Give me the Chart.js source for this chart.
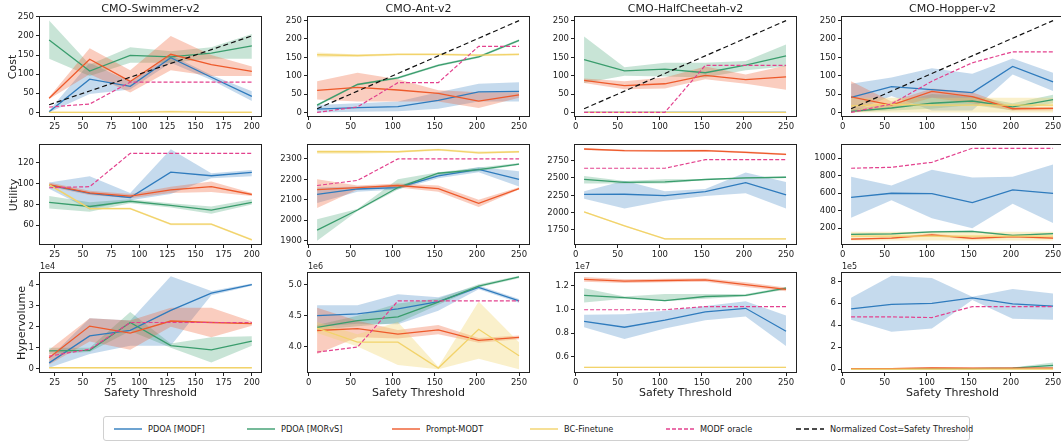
<!DOCTYPE html>
<html>
<head>
<meta charset="utf-8">
<script src="https://cdn.jsdelivr.net/npm/chart.js@4.4.1/dist/chart.umd.min.js"></script>
<style>
  html, body { margin:0; padding:0; background:#fff; }
  #fig { position:relative; width:1061px; height:442px; overflow:hidden; font-family:"DejaVu Sans", sans-serif; color:#222; }
  #fig canvas { position:absolute; }
  .lbl { position:absolute; white-space:nowrap; transform:translate(-50%,-50%); font-size:11px; }
  .ylab { position:absolute; white-space:nowrap; transform:translate(-50%,-50%) rotate(-90deg); font-size:11px; }
  .off { position:absolute; white-space:nowrap; font-size:8px; }
  #legend { position:absolute; left:103px; top:416px; width:867px; height:25px; border:1px solid #d0d0d0; border-radius:3px; box-sizing:border-box; }
  .li { position:absolute; top:0; height:100%; display:flex; align-items:center; font-size:8.2px; white-space:nowrap; }
  .li svg { margin-right:6px; }
</style>
</head>
<body>
<div id="fig"><div id="legend"></div></div>
<script>
// --- textos ---
const envNames = ['CMO-Swimmer-v2', 'CMO-Ant-v2', 'CMO-HalfCheetah-v2', 'CMO-Hopper-v2'];
const rowNames = ['Cost', 'Utility', 'Hypervolume'];
const hvOffsets = ['1e4', '1e6', '1e7', '1e5'];
const methodNames = ['PDOA [MODF]', 'PDOA [MORvS]', 'Prompt-MODT', 'BC-Finetune', 'MODF oracle', 'Normalized Cost=Safety Threshold'];

// --- eje x ---
const swimX = [20, 56, 92, 128, 164, 200];
const envX = [10, 58, 106, 154, 202, 250];
const swimRef = [20, 56, 92, 128, 164, 200];
const envRef = [10, 58, 106, 154, 202, 250];
const swimXTicks = [25, 50, 75, 100, 125, 150, 175, 200];
const envXTicks = [0, 50, 100, 150, 200, 250];

// --- ticks y ---
const costTicks = [0, 50, 100, 150, 200, 250];
const swimUtilTicks = [60, 80, 100, 120];
const antUtilTicks = [1900, 2000, 2100, 2200, 2300];
const cheUtilTicks = [1750, 2000, 2250, 2500, 2750];
const hopUtilTicks = [200, 400, 600, 800, 1000];
const swimHvTicks = [0, 1, 2, 3, 4];
const antHvTicks = [4.0, 4.5, 5.0];
const cheHvTicks = [0.6, 0.8, 1.0, 1.2];
const hopHvTicks = [0, 2, 4, 6, 8];

// --- datos: [media, min, max] por punto ---
// Cost
const swimCostModf   = [[2,0,5],[87,48,130],[68,60,80],[143,130,150],[92,85,98],[42,30,55]];
const swimCostMorvs  = [[189,140,240],[108,95,125],[149,130,170],[145,130,160],[155,140,170],[174,140,205]];
const swimCostPrompt = [[37,35,40],[139,100,168],[81,52,110],[152,110,200],[125,95,150],[107,95,120]];
const swimCostBc     = [[0,0,3],[0,0,2],[0,0,2],[2,0,5],[0,0,3],[0,0,3]];
const swimCostOracle = [14, 22, 79, 79, 79, 79];

const antCostModf   = [[9,0,20],[13,2,25],[16,3,30],[33,10,55],[56,30,78],[57,30,82]];
const antCostMorvs  = [[20,17,23],[76,73,79],[94,91,97],[128,125,131],[151,148,154],[196,193,199]];
const antCostPrompt = [[60,35,85],[68,30,108],[61,30,90],[52,30,60],[31,12,55],[48,40,55]];
const antCostBc     = [[157,150,163],[155,151,158],[158,155,161],[158,155,161],[156,153,159],[158,155,161]];
const antCostOracle = [0, 15, 81, 81, 180, 180];

const cheCostModf   = [[0,0,2],[0,0,2],[0,0,2],[0,0,2],[0,0,2],[0,0,2]];
const cheCostMorvs  = [[144,80,207],[113,100,123],[118,98,135],[108,95,135],[129,115,140],[154,125,185]];
const cheCostPrompt = [[87,80,92],[73,63,85],[78,65,95],[101,90,125],[89,78,103],[97,62,128]];
const cheCostBc     = [[0,0,1],[0,0,1],[0,0,1],[0,0,1],[0,0,1],[0,0,1]];
const cheCostOracle = [0, 0, 0, 128, 128, 128];

const hopCostModf   = [[41,0,78],[70,45,95],[62,5,120],[54,5,105],[125,103,147],[83,58,108]];
const hopCostMorvs  = [[3,0,8],[12,5,25],[25,10,50],[31,20,45],[15,5,25],[35,25,48]];
const hopCostPrompt = [[42,0,85],[20,10,30],[57,40,65],[43,25,55],[10,5,15],[11,5,15]];
const hopCostBc     = [[18,0,40],[22,0,40],[20,0,40],[20,0,40],[20,0,40],[20,0,40]];
const hopCostOracle = [0, 23, 85, 135, 165, 165];

// Utility
const swimUtilModf   = [[98.5,95,101],[90.5,75,107],[86.6,84,91],[111,90,133],[107.5,105,110],[110.7,107,113]];
const swimUtilMorvs  = [[82,76,88],[78,73,82],[83,81,85],[79,77,81],[74.5,71,78],[82,80,85]];
const swimUtilPrompt = [[99,97,101],[91,89,93],[88,86,90],[94,91,97],[97,92,102],[89.5,88,91]];
const swimUtilBc     = [[99,98,100],[76,75,77],[76,75,77],[61,60,62],[61,60,62],[46,45,47]];
const swimUtilOracle = [96, 97, 129, 129, 129, 129];

const antUtilModf   = [[2127,2085,2160],[2153,2140,2165],[2160,2150,2170],[2217,2205,2225],[2249,2235,2260],[2200,2165,2240]];
const antUtilMorvs  = [[1952,1900,2005],[2050,2045,2055],[2160,2150,2200],[2230,2220,2235],[2248,2240,2258],[2275,2270,2280]];
const antUtilPrompt = [[2150,2060,2200],[2160,2150,2170],[2170,2160,2180],[2155,2140,2170],[2083,2065,2100],[2155,2150,2162]];
const antUtilBc     = [[2335,2325,2343],[2335,2325,2343],[2335,2330,2340],[2345,2340,2350],[2330,2325,2337],[2335,2330,2340]];
const antUtilOracle = [2170, 2195, 2300, 2300, 2300, 2300];

const cheUtilModf   = [[2264,2200,2310],[2265,2060,2460],[2245,2170,2310],[2303,2240,2340],[2433,2280,2580],[2255,2060,2440]];
const cheUtilMorvs  = [[2481,2420,2530],[2437,2420,2455],[2445,2420,2480],[2478,2470,2485],[2500,2490,2510],[2510,2500,2520]];
const cheUtilPrompt = [[2918,2905,2930],[2895,2882,2908],[2890,2877,2903],[2895,2882,2908],[2870,2855,2885],[2841,2828,2854]];
const cheUtilBc     = [[2010,2000,2020],[1810,1800,1820],[1620,1610,1630],[1620,1610,1630],[1620,1610,1630],[1620,1610,1630]];
const cheUtilOracle = [2640, 2640, 2640, 2764, 2764, 2764];

const hopUtilModf   = [[554,320,790],[600,520,690],[596,315,870],[493,200,780],[638,480,790],[600,260,930]];
const hopUtilMorvs  = [[130,120,140],[137,127,147],[158,148,168],[165,155,175],[118,108,128],[140,130,150]];
const hopUtilPrompt = [[75,65,85],[87,77,97],[125,110,140],[85,72,98],[105,92,118],[88,78,98]];
const hopUtilBc     = [[110,60,160],[110,60,160],[110,60,160],[110,60,160],[110,60,160],[110,60,160]];
const hopUtilOracle = [886, 897, 954, 1114, 1114, 1114];

// Hypervolume (en unidades del offset)
const swimHvModf   = [[0.28,0.05,0.5],[1.56,0.7,2.4],[1.83,1.1,2.3],[2.78,1.1,4.4],[3.6,3.5,3.7],[4.0,3.95,4.05]];
const swimHvMorvs  = [[0.85,0.7,1.0],[0.88,0.8,1.0],[2.2,1.8,2.7],[1.1,1.0,1.2],[0.9,0.3,1.5],[1.32,1.1,1.55]];
const swimHvPrompt = [[0.52,0.2,0.9],[2.03,1.3,2.4],[1.7,0.9,2.3],[2.27,2.0,2.9],[2.2,1.5,2.9],[2.15,2.05,2.25]];
const swimHvBc     = [[0.05,0.03,0.07],[0.05,0.03,0.07],[0.05,0.03,0.07],[0.05,0.03,0.07],[0.05,0.03,0.07],[0.05,0.03,0.07]];
const swimHvOracle = [0.6, 0.93, 2.2, 2.2, 2.2, 2.2];

const antHvModf   = [[4.50,4.32,4.67],[4.53,4.37,4.67],[4.61,4.36,4.85],[4.73,4.58,4.8],[4.96,4.93,4.99],[4.74,4.71,4.77]];
const antHvMorvs  = [[4.31,4.27,4.35],[4.42,4.33,4.5],[4.48,4.38,4.7],[4.72,4.68,4.78],[4.98,4.96,5.01],[5.13,5.11,5.15]];
const antHvPrompt = [[4.26,3.88,4.63],[4.29,4.15,4.42],[4.2,4.13,4.27],[4.27,4.2,4.35],[4.1,4.06,4.14],[4.15,4.12,4.18]];
const antHvBc     = [[4.3,4.22,4.4],[4.07,4.0,4.2],[4.07,3.7,4.4],[3.65,3.63,3.67],[4.28,3.8,4.73],[3.85,3.63,4.07]];
const antHvOracle = [3.91, 3.99, 4.74, 4.74, 4.74, 4.74];

const cheHvModf   = [[0.90,0.85,0.955],[0.85,0.75,0.96],[0.91,0.84,0.99],[0.98,0.91,1.03],[1.01,0.94,1.07],[0.816,0.69,0.95]];
const cheHvMorvs  = [[1.12,1.06,1.18],[1.10,1.09,1.11],[1.075,1.07,1.13],[1.11,1.09,1.13],[1.12,1.11,1.13],[1.18,1.17,1.19]];
const cheHvPrompt = [[1.254,1.235,1.275],[1.24,1.225,1.255],[1.245,1.23,1.26],[1.25,1.235,1.265],[1.21,1.19,1.23],[1.17,1.155,1.185]];
const cheHvBc     = [[0.51,0.505,0.515],[0.51,0.505,0.515],[0.51,0.505,0.515],[0.51,0.505,0.515],[0.51,0.505,0.515],[0.51,0.505,0.515]];
const cheHvOracle = [0.998, 0.998, 0.998, 1.025, 1.025, 1.025];

const hopHvModf   = [[5.5,4.5,6.5],[5.9,3.4,8.5],[6.0,3.7,8.3],[6.5,6.3,6.6],[5.95,4.6,7.3],[5.74,4.5,6.9]];
const hopHvMorvs  = [[0.05,0,0.1],[0.05,0,0.1],[0.05,0,0.1],[0.05,0,0.1],[0.1,0.05,0.15],[0.35,0.1,0.6]];
const hopHvPrompt = [[0.05,0,0.1],[0.05,0,0.1],[0.12,0.05,0.2],[0.1,0.05,0.15],[0.1,0.05,0.15],[0.1,0.05,0.15]];
const hopHvBc     = [[0,0,0.02],[0,0,0.02],[0,0,0.02],[0,0,0.02],[0,0,0.02],[0,0,0.02]];
const hopHvOracle = [4.76, 4.76, 4.7, 5.7, 5.7, 5.7];

// --- estilos ---
const lineColors = ['#2f7bbd', '#3a9d6d', '#ee5a2b', '#f2d36b'];
const bandColors = ['rgba(47,123,189,0.28)', 'rgba(58,157,109,0.28)', 'rgba(238,90,43,0.30)', 'rgba(242,211,107,0.35)'];
const oracleColor = '#e3418e';
const refColor = '#111';

// --- layout (px) ---
const colLeft = [39, 307, 574, 841];
const rowTop = [16, 144, 272];
const boxW = 223, boxH = 101;
const LM = 38, BM = 20, PT = 6, PR = 6;

const fig = document.getElementById('fig');
Chart.defaults.font.family = '"DejaVu Sans", sans-serif';
Chart.defaults.color = '#222';

// --- paneles ---
const panels = [
  [ { x: swimX, xr: [11, 209], xt: swimXTicks, yr: [-12, 252], yt: costTicks, dec: 0, s: [swimCostModf, swimCostMorvs, swimCostPrompt, swimCostBc], oracle: swimCostOracle, ref: swimRef },
    { x: envX, xr: [-2, 263], xt: envXTicks, yr: [-12.5, 262.5], yt: costTicks, dec: 0, s: [antCostModf, antCostMorvs, antCostPrompt, antCostBc], oracle: antCostOracle, ref: envRef },
    { x: envX, xr: [-2, 263], xt: envXTicks, yr: [-12.5, 262.5], yt: costTicks, dec: 0, s: [cheCostModf, cheCostMorvs, cheCostPrompt, cheCostBc], oracle: cheCostOracle, ref: envRef },
    { x: envX, xr: [-2, 263], xt: envXTicks, yr: [-12.5, 262.5], yt: costTicks, dec: 0, s: [hopCostModf, hopCostMorvs, hopCostPrompt, hopCostBc], oracle: hopCostOracle, ref: envRef } ],
  [ { x: swimX, xr: [11, 209], xt: swimXTicks, yr: [41, 138], yt: swimUtilTicks, dec: 0, s: [swimUtilModf, swimUtilMorvs, swimUtilPrompt, swimUtilBc], oracle: swimUtilOracle },
    { x: envX, xr: [-2, 263], xt: envXTicks, yr: [1879, 2373], yt: antUtilTicks, dec: 0, s: [antUtilModf, antUtilMorvs, antUtilPrompt, antUtilBc], oracle: antUtilOracle },
    { x: envX, xr: [-2, 263], xt: envXTicks, yr: [1533, 2990], yt: cheUtilTicks, dec: 0, s: [cheUtilModf, cheUtilMorvs, cheUtilPrompt, cheUtilBc], oracle: cheUtilOracle },
    { x: envX, xr: [-2, 263], xt: envXTicks, yr: [9, 1163], yt: hopUtilTicks, dec: 0, s: [hopUtilModf, hopUtilMorvs, hopUtilPrompt, hopUtilBc], oracle: hopUtilOracle } ],
  [ { x: swimX, xr: [11, 209], xt: swimXTicks, yr: [-0.2, 4.6], yt: swimHvTicks, dec: 0, s: [swimHvModf, swimHvMorvs, swimHvPrompt, swimHvBc], oracle: swimHvOracle },
    { x: envX, xr: [-2, 263], xt: envXTicks, yr: [3.57, 5.21], yt: antHvTicks, dec: 1, s: [antHvModf, antHvMorvs, antHvPrompt, antHvBc], oracle: antHvOracle },
    { x: envX, xr: [-2, 263], xt: envXTicks, yr: [0.463, 1.317], yt: cheHvTicks, dec: 1, s: [cheHvModf, cheHvMorvs, cheHvPrompt, cheHvBc], oracle: cheHvOracle },
    { x: envX, xr: [-2, 263], xt: envXTicks, yr: [-0.35, 8.85], yt: hopHvTicks, dec: 0, s: [hopHvModf, hopHvMorvs, hopHvPrompt, hopHvBc], oracle: hopHvOracle } ]
];

// marco completo alrededor del área
const framePlugin = {
  id: 'frame',
  afterDraw(chart){
    const { ctx, chartArea: a } = chart;
    ctx.save();
    ctx.strokeStyle = '#222'; ctx.lineWidth = 1;
    ctx.strokeRect(Math.round(a.left) + 0.5, Math.round(a.top) + 0.5, Math.round(a.right - a.left) - 1, Math.round(a.bottom - a.top) - 1);
    ctx.restore();
  }
};

function pts(xs, ys){ return xs.map((x, i) => ({ x, y: ys[i] })); }

function makeChart(p, r, c){
  const cv = document.createElement('canvas');
  const w = LM + boxW + PR, h = PT + boxH + BM;
  cv.width = w; cv.height = h;
  cv.style.left = (colLeft[c] - LM) + 'px';
  cv.style.top = (rowTop[r] - PT) + 'px';
  cv.style.width = w + 'px'; cv.style.height = h + 'px';
  fig.appendChild(cv);

  const ds = [];
  p.s.forEach((ser, k) => {
    ds.push({ data: pts(p.x, ser.map(v => v[0])), borderColor: lineColors[k], borderWidth: 1.3, fill: false, order: 15 - k });
  });
  ds.push({ data: pts(p.x, p.oracle), borderColor: oracleColor, borderDash: [4, 2], borderWidth: 1.2, fill: false, order: 11 });
  if (p.ref) ds.push({ data: pts(p.x, p.ref), borderColor: refColor, borderDash: [5, 3], borderWidth: 1.2, fill: false, order: 10 });
  p.s.forEach((ser, k) => {
    ds.push({ data: pts(p.x, ser.map(v => v[2])), borderWidth: 0, borderColor: 'rgba(0,0,0,0)', backgroundColor: bandColors[k], fill: '+1', order: 30 - k });
    ds.push({ data: pts(p.x, ser.map(v => v[1])), borderWidth: 0, borderColor: 'rgba(0,0,0,0)', fill: false, order: 30 - k });
  });

  const tickFont = { size: 8.5 };
  return new Chart(cv, {
    type: 'line',
    data: { datasets: ds },
    options: {
      responsive: false, animation: false, devicePixelRatio: 1,
      layout: { padding: { top: PT, right: PR, left: 0, bottom: 0 } },
      elements: { point: { radius: 0 }, line: { tension: 0 } },
      plugins: { legend: { display: false }, tooltip: { enabled: false } },
      scales: {
        x: {
          type: 'linear', min: p.xr[0], max: p.xr[1],
          afterBuildTicks: s => { s.ticks = p.xt.map(v => ({ value: v })); },
          afterFit: s => { s.height = BM; s.paddingLeft = 0; s.paddingRight = 0; },
          grid: { drawOnChartArea: false, drawTicks: true, tickLength: 3, color: '#222' },
          border: { display: false },
          ticks: { font: tickFont, color: '#222', padding: 2, maxRotation: 0, autoSkip: false, callback: v => String(v) }
        },
        y: {
          type: 'linear', min: p.yr[0], max: p.yr[1],
          afterBuildTicks: s => { s.ticks = p.yt.map(v => ({ value: v })); },
          afterFit: s => { s.width = LM; s.paddingTop = 0; s.paddingBottom = 0; },
          grid: { drawOnChartArea: false, drawTicks: true, tickLength: 3, color: '#222' },
          border: { display: false },
          ticks: { font: tickFont, color: '#222', padding: 2, autoSkip: false, callback: v => Number(v).toFixed(p.dec) }
        }
      }
    },
    plugins: [framePlugin]
  });
}

panels.forEach((row, r) => row.forEach((p, c) => makeChart(p, r, c)));

// --- textos HTML ---
function addDiv(cls, txt, x, y){
  const d = document.createElement('div');
  d.className = cls; d.textContent = txt;
  d.style.left = x + 'px'; d.style.top = y + 'px';
  fig.appendChild(d);
  return d;
}
envNames.forEach((t, c) => addDiv('lbl', t, colLeft[c] + boxW / 2, 8));
const ylabX = [12, 13, 21];
rowNames.forEach((t, r) => addDiv('ylab', t, ylabX[r], rowTop[r] + boxH / 2));
envNames.forEach((_, c) => addDiv('lbl', 'Safety Threshold', colLeft[c] + boxW / 2, 392));
hvOffsets.forEach((t, c) => addDiv('off', t, colLeft[c] + 1, 262));

// --- leyenda (posición x del trazo, relativa al marco) ---
const legendX = [10, 143, 288, 426, 562, 692];
const legendStyles = [
  { color: lineColors[0], dash: '' }, { color: lineColors[1], dash: '' }, { color: lineColors[2], dash: '' },
  { color: lineColors[3], dash: '' }, { color: oracleColor, dash: '4,2' }, { color: refColor, dash: '5,3' }
];
const legend = document.getElementById('legend');
methodNames.forEach((name, i) => {
  const it = document.createElement('div');
  it.className = 'li';
  it.style.left = legendX[i] + 'px';
  const st = legendStyles[i];
  it.innerHTML = `<svg width="28" height="6"><line x1="0" y1="3" x2="28" y2="3" stroke="${st.color}" stroke-width="1.4" ${st.dash ? `stroke-dasharray="${st.dash}"` : ''}/></svg><span></span>`;
  it.querySelector('span').textContent = name;
  legend.appendChild(it);
});
</script>
</body>
</html>
